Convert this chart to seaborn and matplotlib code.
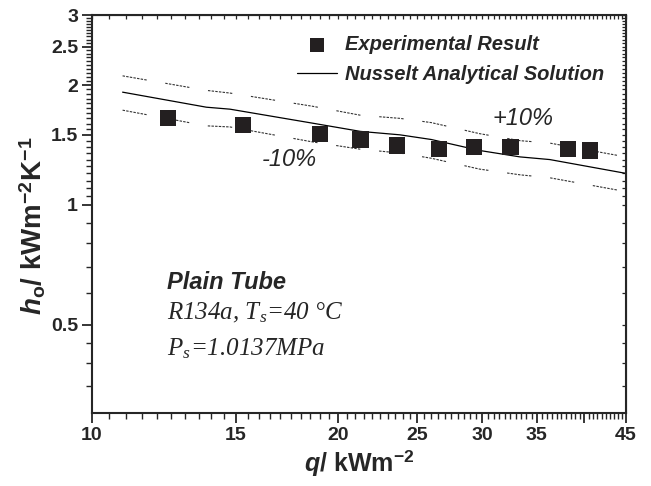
import numpy as np
import pandas as pd
import seaborn as sns
import matplotlib.pyplot as plt
from matplotlib.ticker import FixedLocator, FixedFormatter, NullFormatter

# Data
q_exp = [12.4, 15.3, 19.0, 21.3, 23.6, 26.6, 29.3, 32.5, 38.2, 40.7]
h_exp = [1.65, 1.59, 1.51, 1.46, 1.41, 1.38, 1.40, 1.40, 1.38, 1.37]

q_nu = [10.9, 13.8, 14.75, 18.6, 21.3, 23.8, 26.0, 29.8, 33.4, 36.3, 45.0]
h_nu = [1.92, 1.76, 1.74, 1.605, 1.53, 1.50, 1.46, 1.37, 1.32, 1.30, 1.20]
h_up = [2.11, 1.94, 1.91, 1.77, 1.68, 1.65, 1.61, 1.51, 1.45, 1.43, 1.32]
h_lo = [1.73, 1.58, 1.57, 1.44, 1.38, 1.35, 1.31, 1.23, 1.19, 1.17, 1.08]

x_major = [10, 15, 20, 25, 30, 35, 40, 45]
x_labels = ["10", "15", "20", "25", "30", "35", "", "45"]
y_major = [0.5, 1, 1.5, 2, 2.5, 3]
y_labels = ["0.5", "1", "1.5", "2", "2.5", "3"]

sns.set_style("ticks")
plt.rcParams['font.family'] = ['Liberation Sans', 'DejaVu Sans']
plt.rcParams['mathtext.fontset'] = 'custom'
plt.rcParams['mathtext.rm'] = 'Liberation Sans:bold'
plt.rcParams['mathtext.bf'] = 'Liberation Sans:bold'
plt.rcParams['mathtext.sf'] = 'Liberation Sans:bold:italic'
plt.rcParams['mathtext.it'] = 'Liberation Serif:italic'

fig = plt.figure(figsize=(6.51, 4.86), dpi=100)
ax = fig.add_axes([0.1413, 0.1502, 0.8203, 0.8189])

exp_df = pd.DataFrame({"q": q_exp, "h": h_exp})
nu_df = pd.DataFrame({"q": q_nu, "h": h_nu, "up": h_up, "lo": h_lo})

sns.scatterplot(data=exp_df, x="q", y="h", marker="s", s=135, color="#231f20",
                edgecolor="none", ax=ax, label="Experimental Result", zorder=3)
sns.lineplot(data=nu_df, x="q", y="h", color="black", lw=0.9, ax=ax,
             label="Nusselt Analytical Solution", sort=False)
dash = (0, (2.2, 1.1, 2.2, 1.1, 2.2, 1.1, 2.2, 1.1, 2.2, 1.1, 2.2, 1.1, 2.2, 17))
for col in ["up", "lo"]:
    sns.lineplot(data=nu_df, x="q", y=col, color="#333333", lw=0.8, ax=ax,
                 linestyle=dash, sort=False, legend=False)

ax.set_xscale("log")
ax.set_yscale("log")
ax.set_xlim(10, 45)
ax.set_ylim(0.3, 3)

x_minor = np.arange(10, 45.01, 0.5)
y_minor = list(np.arange(0.35, 0.5, 0.05)) + [0.6, 0.7, 0.8, 0.9] + list(np.arange(1.05, 3.0, 0.05))

ax.xaxis.set_major_locator(FixedLocator(x_major))
ax.xaxis.set_major_formatter(FixedFormatter(x_labels))
ax.xaxis.set_minor_locator(FixedLocator(x_minor))
ax.xaxis.set_minor_formatter(NullFormatter())
ax.yaxis.set_major_locator(FixedLocator(y_major))
ax.yaxis.set_major_formatter(FixedFormatter(y_labels))
ax.yaxis.set_minor_locator(FixedLocator(y_minor))
ax.yaxis.set_minor_formatter(NullFormatter())

ax.tick_params(which="major", direction="out", length=7, width=1.3, labelsize=14, pad=3)
ax.tick_params(which="minor", direction="out", length=4, width=1.0)
for lab in ax.get_xticklabels() + ax.get_yticklabels():
    lab.set_fontweight("bold")
for sp in ax.spines.values():
    sp.set_linewidth(1.5)
    sp.set_visible(True)

# inward ticks on top and right
top = ax.secondary_xaxis("top")
top.xaxis.set_major_locator(FixedLocator(x_major))
top.xaxis.set_minor_locator(FixedLocator(x_minor))
top.xaxis.set_major_formatter(NullFormatter())
top.xaxis.set_minor_formatter(NullFormatter())
top.tick_params(which="both", direction="in", length=3, width=0.9)
right = ax.secondary_yaxis("right")
right.yaxis.set_major_locator(FixedLocator(y_major))
right.yaxis.set_minor_locator(FixedLocator(y_minor))
right.yaxis.set_major_formatter(NullFormatter())
right.yaxis.set_minor_formatter(NullFormatter())
right.tick_params(which="both", direction="in", length=3, width=0.9)

ax.set_xlabel(r"$\mathsf{q}$/ kWm$^{-2}$", fontsize=18, fontweight="bold", labelpad=3)
ax.set_ylabel(r"$\mathsf{h}_\mathrm{o}$/ kWm$^{-2}$K$^{-1}$", fontsize=20, fontweight="bold")
ax.yaxis.set_label_coords(-0.083, 0.47)

ax.legend(loc="upper left", bbox_to_anchor=(0.35, 0.995), frameon=False,
          prop={"family": "Liberation Sans", "weight": "bold", "style": "italic", "size": 14.5},
          handlelength=2.0, handletextpad=0.4, labelspacing=0.55, markerscale=0.9)

ax.text(0.807, 0.74, "+10%", transform=ax.transAxes, fontsize=17, style="italic",
        ha="center", va="center")
ax.text(0.369, 0.636, "-10%", transform=ax.transAxes, fontsize=17, style="italic",
        ha="center", va="center")
ax.text(0.14, 0.327, "Plain Tube", transform=ax.transAxes, fontsize=17,
        fontweight="bold", style="italic", va="center")
ax.text(0.14, 0.252, r"R134a, T$_\mathit{s}$=40 °C", transform=ax.transAxes, fontsize=18,
        family="Liberation Serif", style="italic", va="center")
ax.text(0.14, 0.162, r"P$_\mathit{s}$=1.0137MPa", transform=ax.transAxes, fontsize=18,
        family="Liberation Serif", style="italic", va="center")

fig.savefig("out.png", dpi=100)
